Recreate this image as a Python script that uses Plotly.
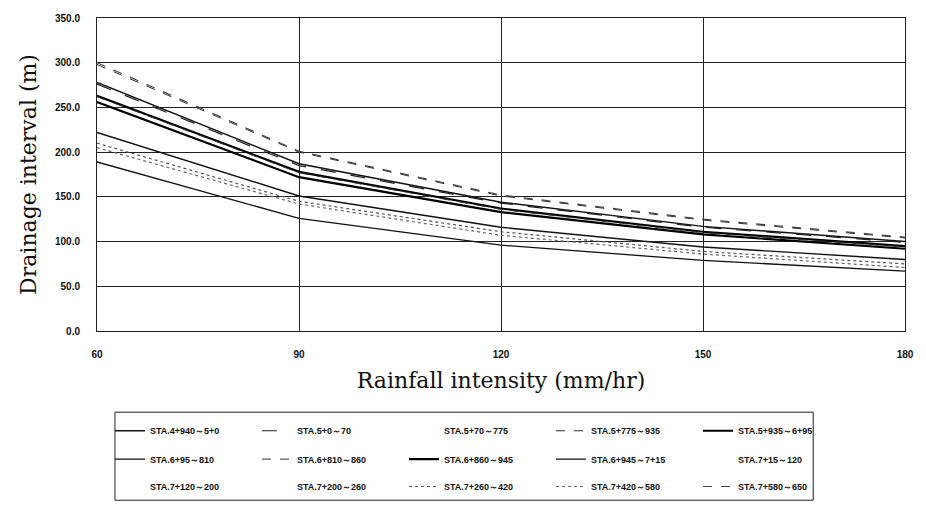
import plotly.graph_objects as go

intensity = [60, 90, 120, 150, 180]

series_names = [
    "STA.4+940～5+0", "STA.5+0～70", "STA.5+70～775", "STA.5+775～935", "STA.5+935～6+95",
    "STA.6+95～810", "STA.6+810～860", "STA.6+860～945", "STA.6+945～7+15", "STA.7+15～120",
    "STA.7+120～200", "STA.7+200～260", "STA.7+260～420", "STA.7+420～580", "STA.7+580～650",
]

series_values = [
    [278, 187, 144, 117, 100],   # STA.4+940~5+0
    [276, 185, 143, 116, 99],    # STA.5+0~70
    [222, 151, 116, 94, 80],     # STA.5+70~775
    [298, 200, 151, 124, 104],   # STA.5+775~935
    [263, 178, 137, 111, 95],    # STA.5+935~6+95
    [189, 126, 96, 79, 67],      # STA.6+95~810
    [262, 177, 136, 110, 94],    # STA.6+810~860
    [256, 172, 133, 108, 92],    # STA.6+860~945
    [222, 151, 116, 94, 80],     # STA.6+945~7+15
    [210, 145, 111, 89, 75],     # STA.7+15~120
    [205, 142, 107, 86, 71],     # STA.7+120~200
    [189, 126, 96, 79, 67],      # STA.7+200~260
    [210, 145, 111, 89, 75],     # STA.7+260~420
    [205, 142, 107, 86, 71],     # STA.7+420~580
    [300, 201, 152, 125, 105],   # STA.7+580~650
]

# (color, width, dash)
styles = [
    ("#111111", 1.4, "solid"),
    ("#222222", 1.2, "longdash"),
    ("rgba(0,0,0,0.0)", 1.0, "dot"),
    ("#333333", 1.0, "dash"),
    ("#000000", 2.2, "solid"),
    ("#111111", 1.3, "solid"),
    ("#333333", 1.0, "dash"),
    ("#000000", 2.2, "solid"),
    ("#111111", 1.4, "solid"),
    ("rgba(0,0,0,0.0)", 1.0, "dot"),
    ("rgba(0,0,0,0.0)", 1.0, "dot"),
    ("rgba(0,0,0,0.0)", 1.0, "dot"),
    ("#555555", 1.2, "dot"),
    ("#666666", 1.2, "dot"),
    ("#444444", 1.2, "dash"),
]

y_ticks = [0, 50, 100, 150, 200, 250, 300, 350]
x_ticks = [60, 90, 120, 150, 180]

fig = go.Figure()
legend_ids = ["legend", "legend2", "legend3"]
for i, (name, vals) in enumerate(zip(series_names, series_values)):
    c, w, d = styles[i]
    fig.add_trace(go.Scatter(
        x=intensity, y=vals, mode="lines", name=name,
        line=dict(color=c, width=w, dash=d),
        legend=legend_ids[i // 5],
    ))

tick_font = dict(family="Liberation Sans Narrow, Liberation Sans, Arial", size=10,
                 color="#111", weight="bold")
leg_font = dict(family="Liberation Sans Narrow, Liberation Sans, Arial", size=9,
                color="#111", weight="bold")

fig.update_layout(
    width=926, height=514,
    margin=dict(l=97, r=19, t=15, b=179),
    paper_bgcolor="white", plot_bgcolor="white",
    showlegend=True,
    xaxis=dict(
        range=[60, 180], tickvals=x_ticks, ticktext=[str(v) for v in x_ticks],
        showgrid=True, gridcolor="#222", gridwidth=1,
        showline=True, linecolor="#222", linewidth=1, mirror=True,
        ticks="", tickfont=tick_font, ticklabelstandoff=14,
        zeroline=False,
        title=dict(text="Rainfall intensity (mm/hr)",
                   font=dict(family="DejaVu Serif", size=22, color="#111"),
                   standoff=13),
    ),
    yaxis=dict(
        range=[0, 350], tickvals=y_ticks, tickformat=".1f",
        showgrid=True, gridcolor="#222", gridwidth=1,
        showline=True, linecolor="#222", linewidth=1, mirror=True,
        ticks="", tickfont=tick_font, ticklabelstandoff=14,
        zeroline=False,
        title=dict(text="Drainage interval (m)",
                   font=dict(family="DejaVu Serif", size=22, color="#111"),
                   standoff=12),
    ),
    shapes=[dict(type="rect", xref="paper", yref="paper",
                 x0=(115 - 97) / 810, x1=(815 - 97) / 810,
                 y0=(335 - 508) / 320, y1=(335 - 418) / 320,
                 line=dict(color="#222", width=1), fillcolor="rgba(0,0,0,0)")],
)

row_y = [437, 466, 494]
for lid, ry in zip(legend_ids, row_y):
    fig.update_layout({lid: dict(
        orientation="h", x=(110 - 97) / 810, xanchor="left",
        y=(335 - ry) / 320, yanchor="middle",
        entrywidth=102, entrywidthmode="pixels",
        itemwidth=30, font=leg_font, bgcolor="rgba(0,0,0,0)",
        borderwidth=0, traceorder="normal",
    )})

fig.write_html("out.html", config={"displayModeBar": False},
               post_script="document.body.style.margin='0';")
